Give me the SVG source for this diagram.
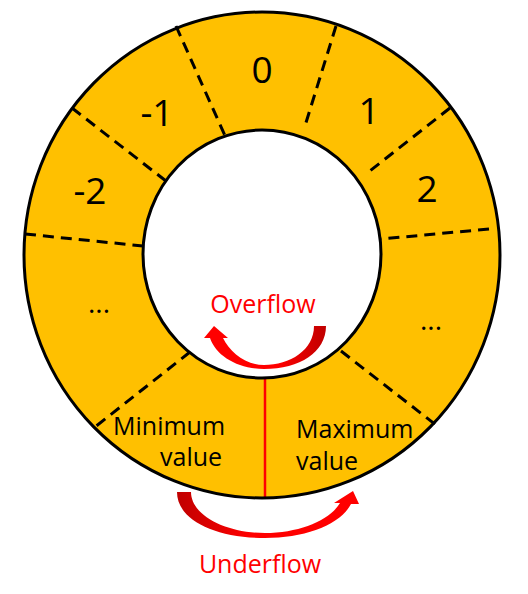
<svg xmlns="http://www.w3.org/2000/svg" width="528" height="594" viewBox="0 0 528 594">
<style>
.lbl{font-family:"Open Sans","Noto Sans",sans-serif;fill:#000}
.num{font-size:37px;text-anchor:middle}
.txt{font-size:25px}
.dots{font-size:28px;text-anchor:middle}
.red{font-family:"Open Sans","Noto Sans",sans-serif;fill:#FF0000;font-size:25px;text-anchor:middle}
.dash{stroke:#000;stroke-width:3;stroke-dasharray:11 7;fill:none}
.edge{stroke:#000;stroke-width:3}
</style>
<defs>
<linearGradient id="gOver" x1="0" y1="0" x2="1" y2="0">
<stop offset="0" stop-color="#FF0000"/>
<stop offset="0.6" stop-color="#FF0000"/>
<stop offset="1" stop-color="#C00000"/>
</linearGradient>
<linearGradient id="gUnder" x1="0" y1="0" x2="1" y2="0">
<stop offset="0" stop-color="#C00000"/>
<stop offset="0.4" stop-color="#FF0000"/>
<stop offset="1" stop-color="#FF0000"/>
</linearGradient>
</defs>
<g id="ring">
<ellipse cx="262" cy="255" rx="238" ry="243" fill="#FFC000"/>
</g>
<g id="connectors">
<line class="dash" x1="176" y1="26" x2="226" y2="138"/>
<line class="dash" x1="336" y1="26" x2="304" y2="129"/>
<line class="dash" x1="72" y1="108" x2="166" y2="181"/>
<line class="dash" x1="450" y1="108" x2="366" y2="174"/>
<line class="dash" x1="25" y1="234" x2="143" y2="246"/>
<line class="dash" x1="489" y1="229" x2="381" y2="239"/>
<line class="dash" x1="190" y1="352" x2="95" y2="427"/>
<line class="dash" x1="341" y1="351" x2="436" y2="425"/>
<line x1="265" y1="378" x2="265" y2="497" stroke="#FF0000" stroke-width="2.5"/>
</g>
<g id="ring-edges">
<ellipse cx="262" cy="254" rx="119" ry="124" fill="#FFFFFF" class="edge"/>
<ellipse cx="262" cy="255" rx="238" ry="243" fill="none" class="edge"/>
</g>
<g id="seg-0"><text class="lbl num" x="262" y="83">0</text></g>
<g id="seg-m1"><text class="lbl num" x="157" y="126">-1</text></g>
<g id="seg-1"><text class="lbl num" x="369" y="124">1</text></g>
<g id="seg-m2"><text class="lbl num" x="90" y="204">-2</text></g>
<g id="seg-2"><text class="lbl num" x="427" y="202">2</text></g>
<g id="seg-dots-left"><text class="lbl dots" x="99" y="313">...</text></g>
<g id="seg-dots-right"><text class="lbl dots" x="431" y="330">...</text></g>
<g id="seg-min">
<text class="lbl txt" x="113" y="435">Minimum</text>
<text class="lbl txt" x="160" y="466">value</text>
</g>
<g id="seg-max">
<text class="lbl txt" x="296" y="438">Maximum</text>
<text class="lbl txt" x="296" y="470">value</text>
</g>
<g id="overflow">
<path fill="url(#gOver)" d="M 314 326 L 326 326 C 326 352 300 369 264 369 C 238 369 216 356 210 338 L 204 338 L 214 326 L 228 338 L 223 338 C 230 352 245 365 264 365 C 290 365 314 350 314 326 Z"/>
<text class="red" x="263" y="313">Overflow</text>
</g>
<g id="underflow">
<path fill="url(#gUnder)" d="M 177 492 L 191 492 C 191 515 225 533 265 533 C 300 533 330 520 340 503 L 334 503 L 353 491 L 359 504 L 351 504 C 340 525 305 538 265 538 C 215 538 177 520 177 492 Z"/>
<text class="red" x="260" y="573">Underflow</text>
</g>
</svg>
